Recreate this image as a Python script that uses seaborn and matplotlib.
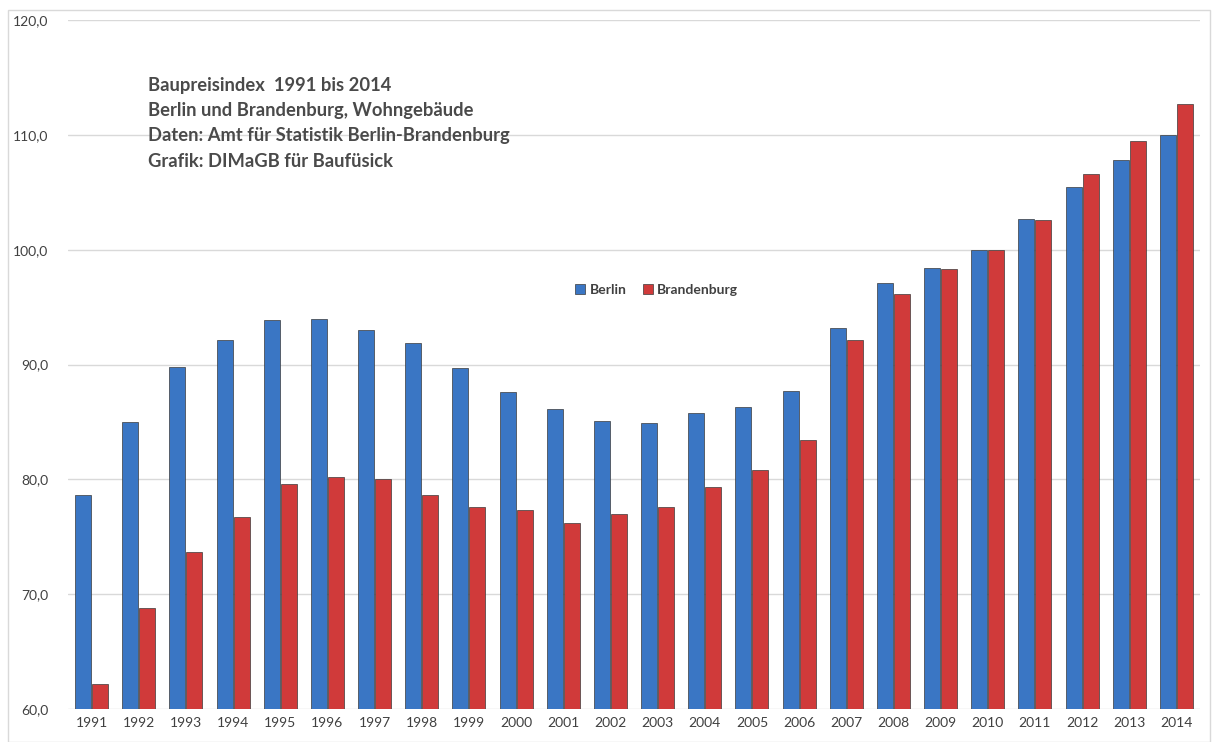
import matplotlib
matplotlib.use("Agg")
import matplotlib.pyplot as plt
import seaborn as sns
import pandas as pd
from matplotlib.patches import Rectangle
from matplotlib.ticker import FuncFormatter

years = [str(y) for y in range(1991, 2015)]
berlin = [78.6, 85.0, 89.8, 92.1, 93.9, 94.0, 93.0, 91.9, 89.7, 87.6, 86.1, 85.1,
          84.9, 85.8, 86.3, 87.7, 93.2, 97.1, 98.4, 100.0, 102.7, 105.5, 107.8, 110.0]
brandenburg = [62.2, 68.8, 73.7, 76.7, 79.6, 80.2, 80.0, 78.6, 77.6, 77.3, 76.2, 77.0,
               77.6, 79.3, 80.8, 83.4, 92.1, 96.1, 98.3, 100.0, 102.6, 106.6, 109.5, 112.7]
series_names = ["Berlin", "Brandenburg"]
y_ticks = [60, 70, 80, 90, 100, 110, 120]

df = pd.DataFrame({
    "Jahr": years * 2,
    "Index": berlin + brandenburg,
    "Region": [series_names[0]] * len(years) + [series_names[1]] * len(years),
})

sns.set_style("white")
plt.rcParams["font.family"] = ["Lato", "DejaVu Sans"]

fig = plt.figure(figsize=(12.14, 7.42), dpi=100)
ax = fig.add_axes([0.056, 0.0445, 0.9325, 0.9285])

palette = {"Berlin": "#3a76c4", "Brandenburg": "#d03a3a"}
sns.barplot(data=df, x="Jahr", y="Index", hue="Region", palette=palette,
            width=0.72, gap=0.06, edgecolor="#3a3a3a", linewidth=0.5,
            saturation=1, ax=ax, legend=False)

ax.set_ylim(60, 120)
ax.set_yticks(y_ticks)
ax.yaxis.set_major_formatter(FuncFormatter(lambda v, p: f"{v:.1f}".replace(".", ",")))
ax.set_xlim(-0.5, len(years) - 0.5)
ax.yaxis.grid(True, color="#d9d9d9", linewidth=1)
ax.set_axisbelow(True)
for s in ax.spines.values():
    s.set_visible(False)
ax.set_xlabel("")
ax.set_ylabel("")
ax.tick_params(axis="both", length=0, labelsize=10, colors="#404040", pad=6)
ax.tick_params(axis="y", pad=14)

ax.text(0.071, 0.918,
        "Baupreisindex  1991 bis 2014\nBerlin und Brandenburg, Wohngebäude\n"
        "Daten: Amt für Statistik Berlin-Brandenburg\nGrafik: DIMaGB für Baufüsick",
        transform=ax.transAxes, ha="left", va="top", fontsize=13.2,
        fontweight="bold", color="#4a4a4a", linespacing=1.6)

handles = [Rectangle((0, 0), 1, 1, facecolor=palette[n], edgecolor="#3a3a3a", linewidth=0.5)
           for n in series_names]
ax.legend(handles, series_names, loc="center", bbox_to_anchor=(0.52, 0.608), ncol=2,
          frameon=False, fontsize=10, handlelength=0.7, handleheight=0.7,
          handletextpad=0.3, columnspacing=1.2, labelcolor="#404040",
          prop={"weight": "bold", "size": 10})

fig.patches.append(Rectangle((0.007, 0.0), 0.99, 0.986, transform=fig.transFigure,
                             fill=False, edgecolor="#d9d9d9", linewidth=1))

fig.savefig("out.png", dpi=100, facecolor="white")
